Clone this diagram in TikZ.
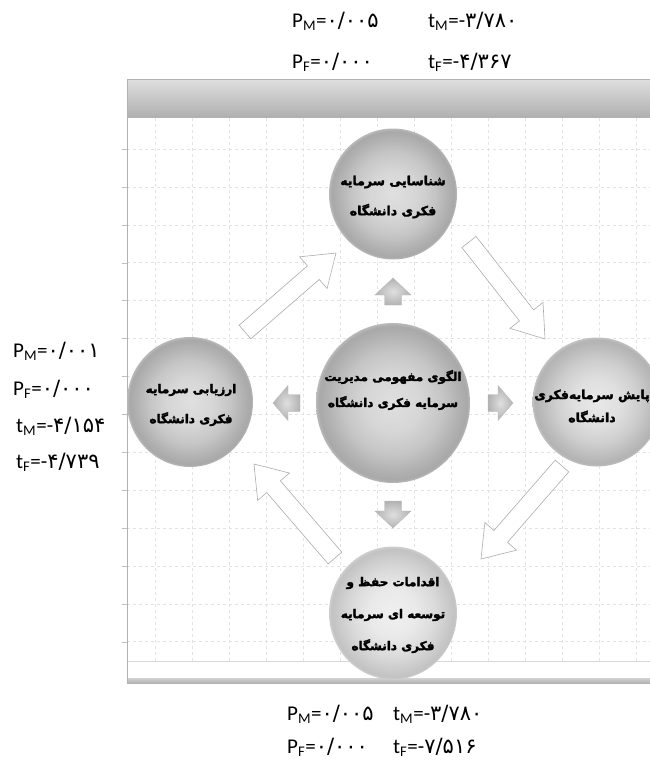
\documentclass[tikz,border=0pt]{standalone}
\usepackage{fontspec}
\setmainfont{Carlito}
\newfontfamily\fatext[Script=Arabic,FakeBold=2.5]{DejaVu Sans Bold}
\newfontfamily\fanum{DejaVu Sans}
\TeXXeTstate=1
\usetikzlibrary{calc}
\usetikzlibrary{math}
\usetikzlibrary{shapes.geometric}

% shading of the balls (the rim of the ball lies at 25bp)
\pgfdeclareradialshading{sphere}{\pgfpoint{0bp}{0bp}}{%
  color(0bp)=(gray!25); color(9bp)=(gray!32); color(16bp)=(gray!45);
  color(21bp)=(gray!60); color(24bp)=(gray!68); color(25bp)=(gray!55); color(50bp)=(gray!55)}
\pgfdeclareradialshading{midsphere}{\pgfpoint{0bp}{0bp}}{%
  color(0bp)=(gray!18); color(9bp)=(gray!25); color(16bp)=(gray!38);
  color(21bp)=(gray!52); color(24bp)=(gray!60); color(25bp)=(gray!48); color(50bp)=(gray!48)}
\pgfdeclareradialshading{palesphere}{\pgfpoint{0bp}{0bp}}{%
  color(0bp)=(gray!12); color(9bp)=(gray!17); color(16bp)=(gray!28);
  color(21bp)=(gray!40); color(24bp)=(gray!48); color(25bp)=(gray!38); color(50bp)=(gray!38)}

% persian digits
\newcommand{\fadig}[1]{{\fanum #1}}

% block arrow: [style]{tail}{tip}{half shaft}{half head}{head length}
\newcommand{\blockarrow}[6][]{%
  \coordinate (head) at ($(#3)!#6!(#2)$);
  \draw[#1] ($(#2)!#4!90:(#3)$) -- ($(head)!#4!-90:(#2)$) -- ($(head)!#5!-90:(#2)$) -- (#3)
    -- ($(head)!#5!90:(#2)$) -- ($(head)!#4!90:(#2)$) -- ($(#2)!#4!-90:(#3)$) -- cycle;
}

\begin{document}
\begin{tikzpicture}[x=1pt,y=-1pt,
  ball/.style={ellipse,shading=sphere,inner sep=0pt},
  midball/.style={ellipse,shading=midsphere,inner sep=0pt},
  paleball/.style={ellipse,shading=palesphere,inner sep=0pt},
  balltext/.style={align=center,inner sep=0pt},
  stat/.style={font=\fontsize{21}{21}\selectfont,inner sep=0pt,anchor=base west},
  gridline/.style={gray!22,dashed,line width=0.5pt},
  bigarrow/.style={draw=gray!65,fill=white,line width=0.6pt,line join=miter},
  smallarrow/.style={draw=gray!55,inner color=gray!25,outer color=gray!60,line width=0.4pt}]

  \tikzmath{
    \gridx = 37;    % spacing of the vertical grid lines
    \gridy = 37.9;  % spacing of the horizontal grid lines
    \frameleft = 127; % left side of the frame
  }

  \useasboundingbox (0,0) rectangle (650,761);
  \clip (0,0) rectangle (650,761);

  % Frame with grid
  \foreach \i in {0,...,13}
    \draw[gridline] ({155+\i*\gridx},118) -- ({155+\i*\gridx},661);
  \foreach \j in {0,...,13} {
    \draw[gridline] (\frameleft,{149+\j*\gridy}) -- (650,{149+\j*\gridy});
    \draw[gray!50] (122,{149+\j*\gridy}) -- (\frameleft,{149+\j*\gridy});
  }
  \draw[gray!30] (\frameleft,661) -- (650,661);
  \fill[top color=gray!35,bottom color=gray!60] (\frameleft,678) rectangle (650,683);
  \draw[top color=gray!25,bottom color=gray!62,draw=gray!60] (\frameleft,79) rectangle (651,117);
  \draw[gray!60] (\frameleft,79) -- (\frameleft,683);

  % Big arrows between the outer balls
  \coordinate (tl-tail) at (245,332); \coordinate (tl-tip) at (336,253);
  \coordinate (tr-tail) at (469,242); \coordinate (tr-tip) at (545,339);
  \coordinate (br-tail) at (562,466); \coordinate (br-tip) at (481,559);
  \coordinate (bl-tail) at (335,558); \coordinate (bl-tip) at (254,464);
  \blockarrow[bigarrow]{tl-tail}{tl-tip}{9pt}{21pt}{30pt}
  \blockarrow[bigarrow]{tr-tail}{tr-tip}{9pt}{21pt}{30pt}
  \blockarrow[bigarrow]{br-tail}{br-tip}{9pt}{21pt}{30pt}
  \blockarrow[bigarrow]{bl-tail}{bl-tip}{9pt}{21pt}{30pt}

  % Balls
  \node[ball,minimum width=128pt,minimum height=131pt] (ident) at (393,194) {};
  \node[ball,minimum width=154pt,minimum height=160pt] (core) at (393,403) {};
  \node[midball,minimum width=129pt,minimum height=129pt] (monitor) at (597,402) {};
  \node[ball,minimum width=126pt,minimum height=130pt] (assess) at (190,402) {};
  \node[paleball,minimum width=128pt,minimum height=133pt] (develop) at (393,613) {};

  % Small arrows around the core
  \coordinate (up-tail) at (393,305);    \coordinate (up-tip) at (393,278);
  \coordinate (down-tail) at (393,501);  \coordinate (down-tip) at (393,528);
  \coordinate (left-tail) at (300,403);  \coordinate (left-tip) at (273,403);
  \coordinate (right-tail) at (488,403); \coordinate (right-tip) at (513,403);
  \blockarrow[smallarrow]{up-tail}{up-tip}{8.5pt}{18pt}{17pt}
  \blockarrow[smallarrow]{down-tail}{down-tip}{8.5pt}{18pt}{17pt}
  \blockarrow[smallarrow]{left-tail}{left-tip}{8.5pt}{17.5pt}{15pt}
  \blockarrow[smallarrow]{right-tail}{right-tip}{8.5pt}{17.5pt}{15pt}

  % Texts of the balls
  \node[balltext,font={\fatext\fontsize{12.5}{30}\selectfont}] (ident-text) at ([yshift=-3pt]ident.center)
    {\beginR شناسایی سرمایه\endR\\\beginR فکری دانشگاه\endR};
  \node[balltext,font={\fatext\fontsize{12}{26}\selectfont}] (core-text) at ([yshift=13pt]core.center)
    {\beginR الگوی مفهومی مدیریت\endR\\\beginR سرمایه فکری دانشگاه\endR};
  \node[balltext,font={\fatext\fontsize{12.5}{23}\selectfont}] (monitor-text) at ([xshift=-5pt,yshift=-4pt]monitor.center)
    {\beginR پایش سرمایه‌فکری\endR\\\beginR دانشگاه\endR};
  \node[balltext,font={\fatext\fontsize{12}{30}\selectfont}] (assess-text) at ([xshift=1pt,yshift=-3pt]assess.center)
    {\beginR ارزیابی سرمایه\endR\\\beginR فکری  دانشگاه\endR};
  \node[balltext,font={\fatext\fontsize{12}{32}\selectfont}] (develop-text) at ([yshift=-2pt]develop.center)
    {\beginR اقدامات حفظ و\endR\\\beginR توسعه ای سرمایه\endR\\\beginR فکری دانشگاه\endR};

  % Statistics
  \node[stat] (ident-pm) at (292,27) {P\textsubscript{M}=\fadig{۰/۰۰۵}};
  \node[stat] (ident-tm) at (428,27) {t\textsubscript{M}=-\fadig{۳/۷۸۰}};
  \node[stat] (ident-pf) at (292,68) {P\textsubscript{F}=\fadig{۰/۰۰۰}};
  \node[stat] (ident-tf) at (428,68) {t\textsubscript{F}=-\fadig{۴/۳۶۷}};

  \node[stat] (assess-pm) at (13,357) {P\textsubscript{M}=\fadig{۰/۰۰۱}};
  \node[stat] (assess-pf) at (13,395) {P\textsubscript{F}=\fadig{۰/۰۰۰}};
  \node[stat] (assess-tm) at (16,432) {t\textsubscript{M}=-\fadig{۴/۱۵۴}};
  \node[stat] (assess-tf) at (16,468) {t\textsubscript{F}=-\fadig{۴/۷۳۹}};

  \node[stat] (develop-pm) at (287,720) {P\textsubscript{M}=\fadig{۰/۰۰۵}};
  \node[stat] (develop-tm) at (393,720) {t\textsubscript{M}=-\fadig{۳/۷۸۰}};
  \node[stat] (develop-pf) at (287,753) {P\textsubscript{F}=\fadig{۰/۰۰۰}};
  \node[stat] (develop-tf) at (393,753) {t\textsubscript{F}=-\fadig{۷/۵۱۶}};

\end{tikzpicture}
\end{document}
